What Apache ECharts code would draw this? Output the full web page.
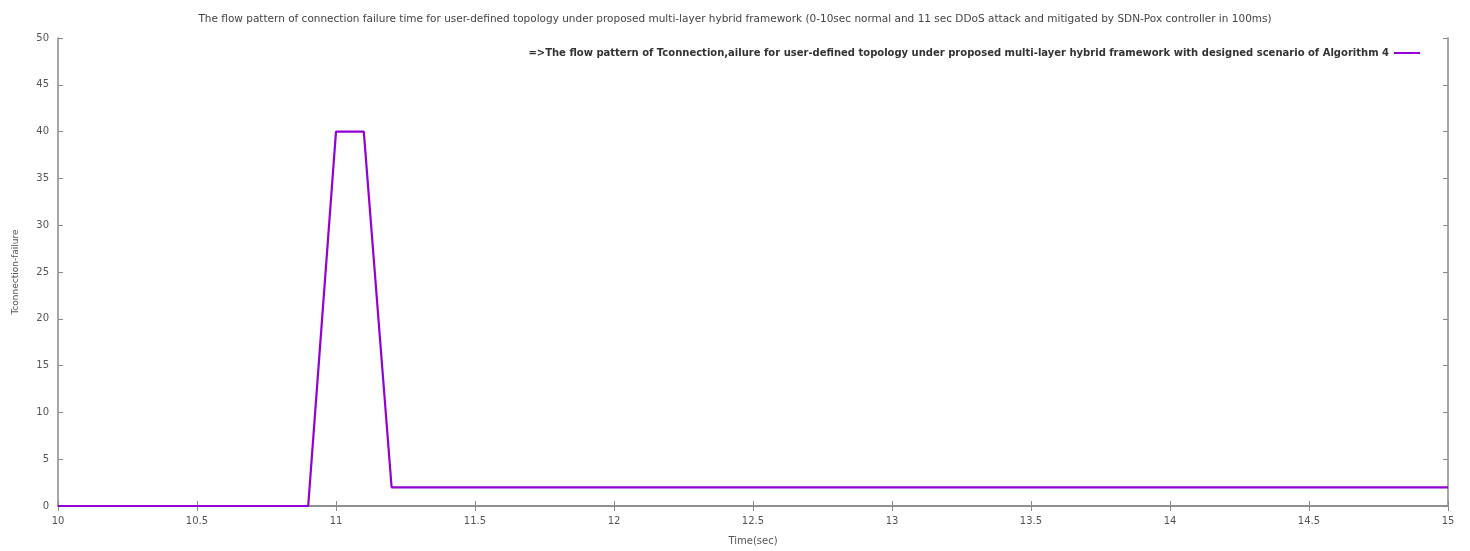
<!DOCTYPE html>
<html>
<head>
<meta charset="utf-8">
<script src="https://cdn.jsdelivr.net/npm/echarts@6/dist/echarts.min.js"></script>
<style>
  html, body { margin: 0; padding: 0; background: #fff; overflow: hidden; }
  #chart { width: 1470px; height: 551px; }
</style>
</head>
<body>
<div id="chart"></div>
<script>
// Connection failure time samples (seconds, Tconnection-failure)
const timeSec = [10, 10.9, 11.0, 11.1, 11.2, 15];
const failureValues = [0, 0, 40, 40, 2, 2];
const xTicks = [10, 10.5, 11, 11.5, 12, 12.5, 13, 13.5, 14, 14.5, 15];
const yTicks = [0, 5, 10, 15, 20, 25, 30, 35, 40, 45, 50];

const titleText = 'The flow pattern of connection failure time for user-defined topology under proposed multi-layer hybrid framework (0-10sec normal and 11 sec DDoS attack and mitigated by SDN-Pox controller in 100ms)';
const seriesName = '=>The flow pattern of Tconnection,ailure for user-defined topology under proposed multi-layer hybrid framework with designed scenario of Algorithm 4';

const points = timeSec.map((t, i) => [t, failureValues[i]]);
const lineColor = '#9400d3';
const axisGray = '#8a8a8a';
const labelGray = '#555';

const chart = echarts.init(document.getElementById('chart'));
const baseFont = 'DejaVu Sans, Liberation Sans, sans-serif';

const xBase = {
  type: 'value', min: xTicks[0], max: xTicks[xTicks.length - 1], interval: 0.5,
  axisLine: { show: true, lineStyle: { color: axisGray, width: 1.5 } },
  axisTick: { show: true, inside: true, length: 5, lineStyle: { color: axisGray } },
  splitLine: { show: false }
};
const yBase = {
  type: 'value', min: yTicks[0], max: yTicks[yTicks.length - 1], interval: 5,
  axisLine: { show: true, lineStyle: { color: axisGray, width: 1.5 } },
  axisTick: { show: true, inside: true, length: 5, lineStyle: { color: axisGray } },
  splitLine: { show: false }
};

chart.setOption({
  animation: false,
  backgroundColor: '#ffffff',
  title: {
    text: titleText,
    left: 'center', top: 9,
    textStyle: { fontSize: 10.5, fontWeight: 'normal', color: '#444', fontFamily: baseFont }
  },
  legend: {
    data: [seriesName],
    right: 45, top: 43,
    itemWidth: 26, itemHeight: 2, itemGap: 8,
    icon: 'rect',
    align: 'right',
    textStyle: { fontSize: 10, fontWeight: 'bold', color: '#333', fontFamily: baseFont }
  },
  grid: { left: 58, right: 22, top: 38, bottom: 40, containLabel: false },
  xAxis: [
    Object.assign({}, xBase, {
      position: 'bottom',
      name: 'Time(sec)', nameLocation: 'middle', nameGap: 30,
      nameTextStyle: { fontSize: 10, color: labelGray, fontFamily: baseFont },
      axisLabel: { show: true, fontSize: 10, color: labelGray, margin: 10, fontFamily: baseFont,
                   formatter: v => String(v) }
    }),
    Object.assign({}, xBase, { position: 'top', axisLabel: { show: false } })
  ],
  yAxis: [
    Object.assign({}, yBase, {
      position: 'left',
      name: 'Tconnection-failure', nameLocation: 'middle', nameGap: 38, nameRotate: 90,
      nameTextStyle: { fontSize: 9, color: labelGray, fontFamily: baseFont },
      axisLabel: { show: true, fontSize: 10, color: labelGray, margin: 9, fontFamily: baseFont }
    }),
    Object.assign({}, yBase, { position: 'right', axisLabel: { show: false } })
  ],
  series: [{
    name: seriesName,
    type: 'line',
    data: points,
    showSymbol: false,
    symbol: 'none',
    lineStyle: { color: lineColor, width: 2.2 },
    itemStyle: { color: lineColor },
    xAxisIndex: 0, yAxisIndex: 0
  }]
});
</script>
</body>
</html>
